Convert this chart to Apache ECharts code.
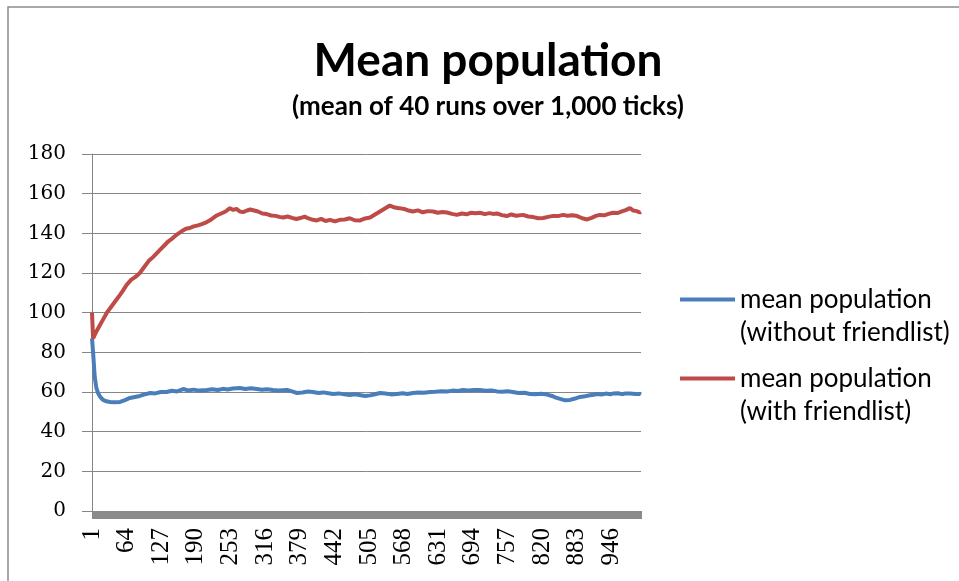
<!DOCTYPE html>
<html>
<head>
<meta charset="utf-8">
<title>Mean population</title>
<script src="https://cdn.jsdelivr.net/npm/echarts@6/dist/echarts.min.js"></script>
<style>
  html, body { margin: 0; padding: 0; background: #fff; }
  #chart { width: 959px; height: 581px; }
</style>
</head>
<body>
<div id="chart"></div>
<script>
// Simulation ticks 1..1000 form the category axis
const tickCount = 1000;
const categories = Array.from({ length: tickCount }, (_, i) => String(i + 1));
const yTicks = [0, 20, 40, 60, 80, 100, 120, 140, 160, 180];

const seriesNames = [
  'mean population\n(without friendlist)',
  'mean population\n(with friendlist)'
];

// [tick, mean population] samples, without friendlist
const withoutFriendlist = [
  [1,87],[3,80],[6,67.5],[9,62],[12,59.5],[16,57.5],[21,56],[27,55.3],[34,55],[42,54.8],
  [52,55],[60,55.8],[70,57],[79,57.5],[88,58],[97,58.8],[107,59.5],[116,59.3],[126,60],[137,60],
  [146,60.6],[156,60.3],[167,61.5],[176,60.8],[186,61.2],[196,60.7],[210,61],[220,61.4],[230,61],[239,61.6],
  [248,61.3],[257,61.8],[270,62],[280,61.5],[290,61.9],[301,61.5],[310,61.1],[320,61.4],[330,61],[340,60.7],
  [356,61],[365,60.3],[374,59.5],[384,59.8],[394,60.2],[403,60],[413,59.5],[422,59.8],[431,59.4],[440,59],
  [450,59.3],[460,58.8],[470,58.5],[480,58.9],[490,58.4],[498,58],[507,58.3],[516,58.9],[525,59.5],[535,59.2],
  [545,58.8],[556,59],[566,59.4],[575,59],[585,59.5],[595,59.8],[605,59.6],[616,60],[626,60.1],[637,60.4],
  [647,60.3],[657,60.7],[667,60.5],[676,61],[686,60.8],[697,61],[707,61],[717,60.6],[728,60.8],[738,60.3],
  [748,60.1],[757,60.4],[767,60],[777,59.5],[788,59.6],[798,59],[808,58.9],[818,59.1],[829,58.7],[838,58],
  [845,57.2],[853,56.5],[862,55.8],[871,56],[880,56.7],[889,57.5],[898,57.9],[907,58.4],[914,58.6],[920,59],
  [928,58.7],[936,59.2],[944,58.9],[949,59.2],[958,59.4],[965,58.9],[972,59.3],[980,59.3],[990,59],[998,59],
  [1000,58.7]
];

// [tick, mean population] samples, with friendlist
const withFriendlist = [
  [1,100],[3,87],[8,90],[14,93],[20,96],[28,100],[36,103],[44,106],[52,109],[57,111],
  [64,114],[72,116.5],[80,118],[88,120],[96,123],[104,126],[112,128],[119,130],[126,132],[133,134],
  [140,136],[148,137.6],[156,139.5],[164,141],[172,142.3],[179,142.7],[186,143.5],[194,144],[202,144.8],[210,145.7],
  [218,147],[228,149],[236,150],[244,151],[252,152.7],[258,151.8],[264,152.3],[270,151],[276,150.7],[283,151.5],
  [289,152],[296,151.5],[303,151],[311,150],[319,149.7],[327,149],[335,148.8],[342,148.3],[349,148],[357,148.5],
  [365,147.8],[373,147.2],[380,147.7],[388,148.4],[395,147.5],[403,146.8],[410,146.5],[418,147.3],[426,146.2],[434,146.8],
  [443,146],[452,146.8],[461,147],[470,147.6],[479,146.6],[489,146.5],[498,147.5],[507,148],[516,149.5],[525,151],
  [534,152.5],[543,154],[552,153],[560,152.7],[569,152.3],[577,151.5],[585,151],[594,151.6],[603,150.6],[612,151.2],
  [622,151],[630,150.4],[639,150.8],[647,150.5],[656,149.8],[665,149.3],[674,150],[683,149.6],[691,150.4],[699,150.1],
  [707,150.4],[716,149.7],[724,150.2],[731,149.8],[738,150],[747,149.2],[756,148.7],[764,149.5],[773,148.9],[785,149.3],
  [795,148.5],[804,148.2],[813,147.6],[822,147.7],[831,148.3],[840,148.8],[849,148.7],[858,149.3],[866,148.9],[875,149.1],
  [884,148.7],[893,147.6],[902,147],[910,147.8],[918,148.8],[925,149.3],[933,149.1],[941,149.8],[949,150.4],[957,150.2],
  [964,150.9],[972,151.7],[980,152.7],[986,151.5],[992,151.2],[998,150.5],[1000,150.8]
];

const colors = ['#4a7ebb', '#be4b48'];
const gridGray = '#868686';

// category axis positions are 0-based
const toPoints = (rows) => rows.map(([t, v]) => [t - 1, v]);

const chart = echarts.init(document.getElementById('chart'), null, { renderer: 'canvas' });

chart.setOption({
  animation: false,
  backgroundColor: '#ffffff',
  color: colors,
  title: {
    text: 'Mean population',
    subtext: '(mean of 40 runs over 1,000 ticks)',
    left: 488,
    textAlign: 'center',
    top: 38,
    itemGap: 10,
    padding: 0,
    textStyle: {
      fontFamily: 'Lato',
      fontWeight: 'bold',
      fontSize: 46,
      lineHeight: 46,
      color: '#000'
    },
    subtextStyle: {
      fontFamily: 'Lato',
      fontWeight: 'bold',
      fontSize: 26,
      lineHeight: 26,
      color: '#000'
    }
  },
  legend: {
    orient: 'vertical',
    left: 680,
    top: 250,
    padding: 0,
    itemGap: -20,
    itemWidth: 55,
    itemHeight: 4,
    icon: 'rect',
    data: seriesNames,
    // leading blank line keeps the first text line level with the swatch
    formatter: (name) => '\n' + name,
    textStyle: {
      fontFamily: 'Lato',
      fontSize: 26,
      lineHeight: 33,
      color: '#000'
    }
  },
  grid: {
    left: 92,
    right: 318,
    top: 154,
    bottom: 70,
    containLabel: false
  },
  xAxis: {
    type: 'category',
    data: categories,
    boundaryGap: false,
    axisLine: { show: true, lineStyle: { color: gridGray, width: 1 } },
    axisTick: {
      show: true,
      interval: 0,
      length: 8,
      lineStyle: { color: '#8a8a8a', width: 1 }
    },
    axisLabel: {
      interval: 62,
      rotate: 90,
      margin: 17,
      fontFamily: 'Liberation Serif',
      fontSize: 25,
      color: '#000'
    },
    splitLine: { show: false }
  },
  yAxis: {
    type: 'value',
    min: yTicks[0],
    max: yTicks[yTicks.length - 1],
    interval: yTicks[1] - yTicks[0],
    axisLine: { show: true, lineStyle: { color: gridGray, width: 1 } },
    axisTick: { show: true, length: 10, lineStyle: { color: gridGray, width: 1 } },
    axisLabel: {
      margin: 26,
      fontFamily: 'DejaVu Serif',
      fontSize: 20,
      color: '#000'
    },
    splitLine: { show: true, lineStyle: { color: gridGray, width: 1 } }
  },
  graphic: [{
    type: 'rect',
    silent: true,
    shape: { x: 8, y: 7, width: 1000, height: 1000 },
    style: { fill: 'none', stroke: '#8c8c8c', lineWidth: 1.5 },
    z: -10
  }],
  series: [
    {
      name: seriesNames[0],
      type: 'line',
      data: toPoints(withoutFriendlist),
      showSymbol: false,
      symbol: 'none',
      lineStyle: { color: colors[0], width: 4 },
      itemStyle: { color: colors[0] },
      z: 2
    },
    {
      name: seriesNames[1],
      type: 'line',
      data: toPoints(withFriendlist),
      showSymbol: false,
      symbol: 'none',
      lineStyle: { color: colors[1], width: 4 },
      itemStyle: { color: colors[1] },
      z: 3
    }
  ]
});
</script>
</body>
</html>
